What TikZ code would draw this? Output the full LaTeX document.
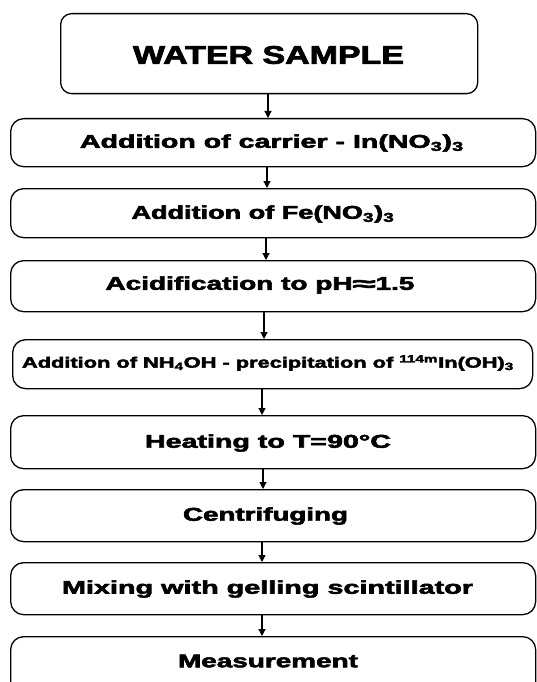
\documentclass[tikz,border=0pt]{standalone}
\usepackage{fontspec}
\usepackage{graphicx}
\usetikzlibrary{arrows.meta}
\newfontfamily\heavy{Liberation Sans Bold}[FakeBold=2.5]
\newlength\fitlen
\newcommand\fitto[3]{{\heavy\fontsize{#2pt}{#2pt}\selectfont\settowidth{\fitlen}{#3}\pgfmathsetmacro\fitsx{#1/\fitlen}\scalebox{\fitsx}[1]{#3}}}
\newcommand\approxsign{\raisebox{-0.05em}{\scalebox{1.5}[1.1]{≈}}}
\begin{document}
\begin{tikzpicture}[x=1pt,y=-1pt,
  box/.style={draw,line width=1.3pt,rounded corners=13pt,inner sep=0pt,anchor=north west},
  flow/.style={line width=1.2pt,-{Triangle[width=7pt,length=7pt]}}]
\useasboundingbox (0,0) rectangle (537,682);
\clip (0,0) rectangle (537,682);
\node[box,rounded corners=11pt,minimum width=417pt,minimum height=80pt] (b1) at (60,13) {};
\node[box,minimum width=525pt,minimum height=48pt] (b2) at (10,118) {};
\node[box,minimum width=525pt,minimum height=49pt] (b3) at (10,188) {};
\node[box,minimum width=525pt,minimum height=51pt] (b4) at (10,260) {};
\node[box,minimum width=520pt,minimum height=49pt] (b5) at (12,339) {};
\node[box,minimum width=525pt,minimum height=53pt] (b6) at (10,415) {};
\node[box,minimum width=525pt,minimum height=52pt] (b7) at (10,489) {};
\node[box,minimum width=525pt,minimum height=52pt] (b8) at (10,562) {};
\node[box,minimum width=525pt,minimum height=60pt] (b9) at (10,636) {};
\node (t1) at (268.5,55) {\fitto{271}{25.5}{WATER SAMPLE}};
\node (t2) at (272,143) {\fitto{384}{18.5}{Addition of carrier - In(NO\textsubscript{3})\textsubscript{3}}};
\node (t3) at (263,214) {\fitto{263}{18.5}{Addition of Fe(NO\textsubscript{3})\textsubscript{3}}};
\node (t4) at (260,285) {\fitto{309}{18.5}{Acidification to pH\approxsign1.5}};
\node (t5) at (268,363) {\fitto{492}{15}{Addition of NH\textsubscript{4}OH - precipitation of \textsuperscript{114m}In(OH)\textsubscript{3}}};
\node (t6) at (268,443) {\fitto{246}{18.5}{Heating to T=90°C}};
\node (t7) at (265.5,516) {\fitto{165}{18.5}{Centrifuging}};
\node (t8) at (267.5,589) {\fitto{411}{18.5}{Mixing with gelling scintillator}};
\node (t9) at (268,661) {\fitto{180}{18.5}{Measurement}};
\draw[flow] (b1.south -| 268,0) -- (b2.north -| 268,0);
\draw[flow] (b2.south -| 267,0) -- (b3.north -| 267,0);
\draw[flow] (b3.south -| 266,0) -- (b4.north -| 266,0);
\draw[flow] (b4.south -| 264,0) -- (b5.north -| 264,0);
\draw[flow] (b5.south -| 262,0) -- (b6.north -| 262,0);
\draw[flow] (b6.south -| 263,0) -- (b7.north -| 263,0);
\draw[flow] (b7.south -| 262,0) -- (b8.north -| 262,0);
\draw[flow] (b8.south -| 262,0) -- (b9.north -| 262,0);
\end{tikzpicture}
\end{document}
